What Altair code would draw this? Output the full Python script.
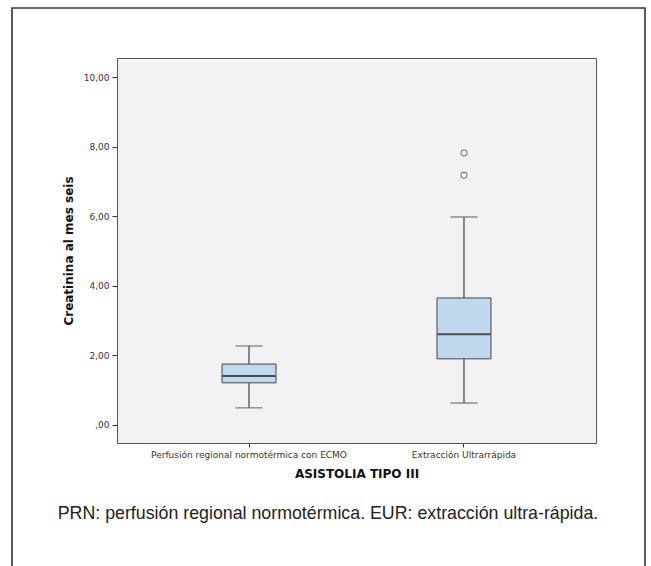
import altair as alt
import pandas as pd

# Box-plot summary for each donor group (creatinine at six months)
groups = ["Perfusión regional normotérmica con ECMO", "Extracción Ultrarrápida"]
lower = [0.49, 0.63]
q1 = [1.21, 1.90]
median = [1.41, 2.61]
q3 = [1.75, 3.65]
upper = [2.27, 5.98]

# Outlying observations
outlier_group = ["Extracción Ultrarrápida", "Extracción Ultrarrápida"]
outlier_value = [7.18, 7.82]

y_ticks = [0, 2, 4, 6, 8, 10]

caption = ["PRN: perfusión regional normotérmica. EUR: extracción ultra-rápida."]

stats = pd.DataFrame(
    {"group": groups, "lower": lower, "q1": q1, "median": median, "q3": q3, "upper": upper}
)
outliers = pd.DataFrame({"group": outlier_group, "value": outlier_value})

FONT = "DejaVu Sans"
EDGE = "#444444"

x_enc = alt.X(
    "group:N",
    sort=groups,
    scale=alt.Scale(domain=groups, paddingInner=0, paddingOuter=0.114),
    axis=alt.Axis(
        title="ASISTOLIA TIPO III",
        labelAngle=0,
        labelLimit=400,
        tickSize=4,
        labelPadding=3,
        titlePadding=9,
    ),
)
y_scale = alt.Scale(domain=[-0.52, 10.55], nice=False, zero=False)
y_axis = alt.Axis(
    title="Creatinina al mes seis",
    values=y_ticks,
    grid=False,
    tickSize=5,
    labelPadding=3,
    titlePadding=8,
    labelExpr="datum.value == 0 ? ',00' : replace(format(datum.value, '.2f'), '.', ',')",
)

base = alt.Chart(stats)

whisker = base.mark_rule(color=EDGE, strokeWidth=1.2).encode(
    x=x_enc,
    y=alt.Y("lower:Q", scale=y_scale, axis=y_axis),
    y2="upper:Q",
)
caps_low = base.mark_tick(color=EDGE, size=27, thickness=1.2).encode(
    x=x_enc, y=alt.Y("lower:Q", scale=y_scale)
)
caps_high = base.mark_tick(color=EDGE, size=27, thickness=1.2).encode(
    x=x_enc, y=alt.Y("upper:Q", scale=y_scale)
)
box = base.mark_bar(size=54, fill="#bfd8ee", stroke=EDGE, strokeWidth=1).encode(
    x=x_enc, y=alt.Y("q1:Q", scale=y_scale), y2="q3:Q"
)
mid = base.mark_tick(color="#111111", size=53, thickness=2).encode(
    x=x_enc, y=alt.Y("median:Q", scale=y_scale)
)
points = alt.Chart(outliers).mark_point(
    shape="circle", filled=False, size=38, color="#555555", strokeWidth=1.2
).encode(x=x_enc, y=alt.Y("value:Q", scale=y_scale))

# Figure frame around the whole panel
frame = alt.Chart(pd.DataFrame({"k": [0]})).mark_rect(
    fillOpacity=0, stroke="#333333", strokeWidth=1.6
).encode(
    x=alt.value(-105), x2=alt.value(528), y=alt.value(-50), y2=alt.value(560)
)

# Figure caption below the axis title
note = alt.Chart(pd.DataFrame({"text": caption})).mark_text(
    font="Liberation Sans",
    fontSize=17.8,
    color="#222222",
    align="center",
    baseline="middle",
).encode(x=alt.value(211), y=alt.value(456), text="text:N")

chart = (
    alt.layer(frame, whisker, caps_low, caps_high, box, mid, points, note)
    .properties(
        width=479,
        height=385,
        autosize=alt.AutoSizeParams(type="none"),
        padding={"left": 117, "top": 58, "right": 55, "bottom": 123},
        background="white",
    )
    .configure_view(fill="#f2f2f2", stroke="#555555", strokeWidth=1)
    .configure_axis(
        labelFont=FONT,
        labelFontSize=9,
        labelColor="#333333",
        titleFont=FONT,
        titleFontSize=12,
        titleFontWeight="bold",
        titleColor="#111111",
        domainColor="#555555",
        tickColor="#333333",
    )
)

chart.save("out.html", embed_options={"renderer": "svg", "actions": False})
